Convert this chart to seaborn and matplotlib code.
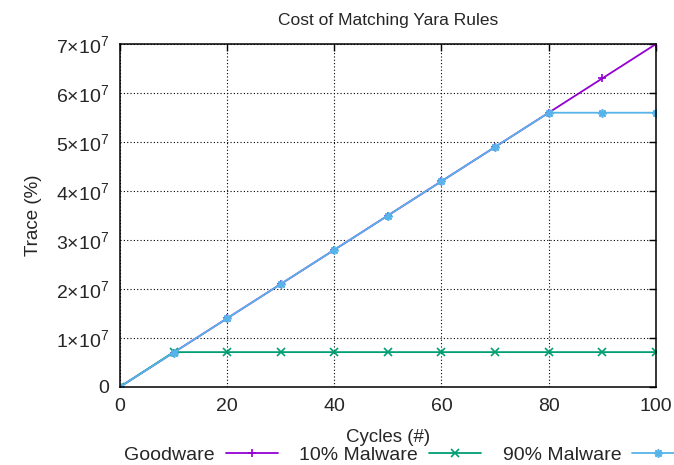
import pandas as pd
import numpy as np
import matplotlib.pyplot as plt
import seaborn as sns

cycles = [0, 10, 20, 30, 40, 50, 60, 70, 80, 90, 100]
goodware = [0, 7e6, 1.4e7, 2.1e7, 2.8e7, 3.5e7, 4.2e7, 4.9e7, 5.6e7, 6.3e7, 7.0e7]
malware_10 = [0, 7.1e6, 7.1e6, 7.1e6, 7.1e6, 7.1e6, 7.1e6, 7.1e6, 7.1e6, 7.1e6, 7.1e6]
malware_90 = [0, 7e6, 1.4e7, 2.1e7, 2.8e7, 3.5e7, 4.2e7, 4.9e7, 5.6e7, 5.6e7, 5.6e7]
series = ['Goodware', '10% Malware', '90% Malware']
yticks = [0, 1e7, 2e7, 3e7, 4e7, 5e7, 6e7, 7e7]
ytick_labels = ['0'] + [r'$%d{\times}10^{7}$' % i for i in range(1, 8)]

df = pd.DataFrame({
    'Cycles': cycles * 3,
    'Trace': goodware + malware_10 + malware_90,
    'Series': [series[0]] * 11 + [series[1]] * 11 + [series[2]] * 11,
})

sns.set_style('white')
plt.rcParams['font.family'] = ['Liberation Sans', 'DejaVu Sans']
plt.rcParams['mathtext.fontset'] = 'custom'
plt.rcParams['mathtext.rm'] = 'Liberation Sans'
plt.rcParams['mathtext.it'] = 'Liberation Sans'

fig = plt.figure(figsize=(6.74, 4.65), dpi=100)
ax = fig.add_axes([0.178, 0.168, 0.795, 0.737])

palette = {'Goodware': '#9400d3', '10% Malware': '#009e73', '90% Malware': '#56b4e9'}
markers = {'Goodware': '+', '10% Malware': 'x', '90% Malware': (8, 2, 0)}
sns.lineplot(data=df, x='Cycles', y='Trace', hue='Series', style='Series',
             palette=palette, markers=markers, dashes=False, markersize=6,
             markeredgewidth=1.2, markeredgecolor=None, linewidth=1.3,
             ax=ax, legend=True)

ax.set_xlim(0, 100)
ax.set_ylim(0, 7e7)
ax.set_xticks([0, 20, 40, 60, 80, 100])
ax.set_yticks(yticks)
ax.set_yticklabels(ytick_labels)
ax.tick_params(direction='in', top=True, right=True, length=5, width=1,
               labelsize=14, color='black', pad=8)
ax.grid(True, linestyle=(0, (1, 2)), color='black', linewidth=0.8)
for s in ax.spines.values():
    s.set_color('black')
    s.set_linewidth(1.1)

ax.set_title('Cost of Matching Yara Rules', fontsize=12.5, pad=14)
ax.set_xlabel('Cycles (#)', fontsize=13.5, labelpad=10)
ax.set_ylabel('Trace (%)', fontsize=13.5, labelpad=10)

h, l = ax.get_legend_handles_labels()
ax.get_legend().remove()
fig.legend(h, l, loc='lower center', bbox_to_anchor=(0.6, -0.035), ncol=3,
           frameon=False, markerfirst=False, handlelength=2.7,
           columnspacing=1.1, fontsize=14, handletextpad=0.55)

fig.savefig('out.png', dpi=100)
